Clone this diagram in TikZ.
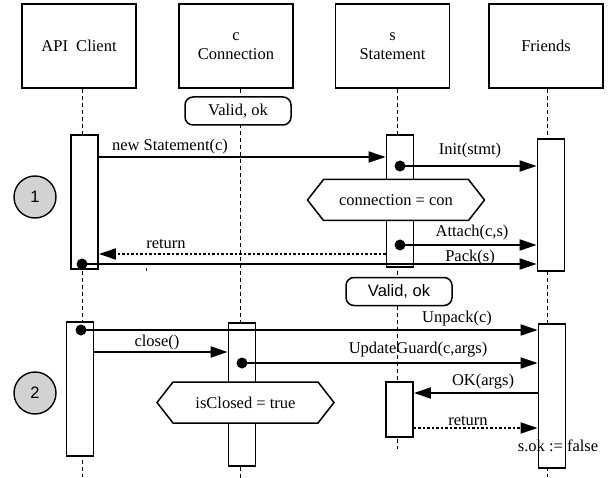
\documentclass[tikz,border=0pt]{standalone}
\usepackage{fontspec}
\setmainfont{Liberation Serif}
\newfontfamily\arialfont{Liberation Sans}
\usetikzlibrary{arrows.meta,shapes.symbols}
\tikzset{
  headbox/.style={draw,line width=1.2pt,minimum width=114pt,minimum height=84pt,align=center},
  lifeline/.style={line width=0.8pt,dash pattern=on 4pt off 3pt},
  actbox/.style={draw,fill=white,line width=1.8pt,minimum width=27pt,inner sep=0pt},
  msg/.style={line width=1.8pt,-{Triangle[length=17pt,width=11pt]}},
  reply/.style={msg,dash pattern=on 2.5pt off 2pt},
  calldot/.style={circle,fill=black,minimum size=11pt,inner sep=0pt},
  guardbox/.style={draw,fill=white,rounded corners=8pt,line width=1.5pt,minimum width=106pt,minimum height=28pt,inner sep=0pt},
  setbox/.style={draw,fill=white,signal,signal to=east and west,signal pointer angle=104,line width=1.5pt,minimum height=41pt,minimum width=177pt,inner sep=0pt},
  phasemark/.style={circle,draw,fill=gray!35,line width=1.4pt,minimum size=42pt,inner sep=0pt,font=\arialfont\fontsize{16.5}{19}\selectfont}
}
\begin{document}
\begin{tikzpicture}[x=1pt,y=-1pt,font=\fontsize{16.5}{19}\selectfont]
\useasboundingbox (0,0) rectangle (615,478);

% objects
\node[headbox] (api) at (79,46) {API\ \ Client};
\node[headbox] (conn) at (236,46) {c\\Connection};
\node[headbox] (stmt) at (392.5,46) {s\\Statement};
\node[headbox] (fr) at (546,46) {Friends};

% lifelines
\draw[lifeline] ([xshift=3pt]api.south) -- ++(0,388);
\draw[lifeline] ([xshift=4pt]conn.south) -- ++(0,390);
\draw[lifeline] ([xshift=5pt]stmt.south) -- ++(0,360);
\draw[lifeline] ([xshift=1pt]fr.south) -- ++(0,388);

% activations
\node[actbox,minimum height=134pt] (apiA) at (84.5,202) {};
\node[actbox,minimum height=132pt] (stmtA) at (400,201) {};
\node[actbox,minimum height=132pt] (frA) at (551,205) {};
\node[actbox,minimum height=134pt] (apiB) at (80,389) {};
\node[actbox,minimum height=143pt] (connB) at (242,394.5) {};
\node[actbox,minimum height=55pt] (stmtB) at (399.5,409.5) {};
\node[actbox,minimum height=144pt] (frB) at (552,396) {};

% states
\node[guardbox] (validA) at (238,111) {Valid, ok};
\node[guardbox,font=\arialfont\fontsize{16.5}{19}\selectfont] (validB) at (399,291.5) {Valid, ok};
\node[setbox] (conset) at (396,200) {connection = con};
\node[setbox] (closedset) at (245.5,402.5) {isClosed = true};

\node[phasemark] (one) at (35,197) {1};
\node[phasemark] (two) at (35,393) {2};

% phase 1
\draw[msg] (apiA.east |- 0,157) -- (stmtA.west |- 0,157);
\node[calldot] (initdot) at (400,166) {};
\draw[msg] (initdot.center) -- (frA.west |- initdot);
\node[calldot] (attachdot) at (400,245) {};
\draw[msg] (attachdot.center) -- (frA.west |- attachdot);
\draw[reply] (stmtA.west |- 0,254) -- (apiA.east |- 0,254);
\node[calldot] (packdot) at (82,264) {};
\draw[msg] (packdot.center) -- (frA.west |- packdot);
\draw[line width=1pt] (146,268) -- (146,271);

\node (newlbl) at (170,147) {new Statement(c)};
\node (initlbl) at (470,151) {Init(stmt)};
\node (attachlbl) at (472,233) {Attach(c,s)};
\node (retlblA) at (166,244) {return};
\node (packlbl) at (470,258) {Pack(s)};

% phase 2
\node[calldot] (unpackdot) at (81,330) {};
\draw[msg] (unpackdot.center) -- (frB.west |- unpackdot);
\draw[msg] (apiB.east |- 0,352) -- (connB.west |- 0,352);
\node[calldot] (guarddot) at (242,363) {};
\draw[msg] (guarddot.center) -- (frB.west |- guarddot);
\draw[msg] (frB.west |- 0,393) -- (stmtB.east |- 0,393);
\draw[reply] (stmtB.east |- 0,428) -- (frB.west |- 0,428);

\node (unpacklbl) at (457,319) {Unpack(c)};
\node (closelbl) at (157,343) {close()};
\node (guardlbl) at (418,350) {UpdateGuard(c,args)};
\node (oklbl) at (483,382) {OK(args)};
\node (retlblB) at (468,421) {return};
\node (oklblB) at (558,446) {s.ok := false};
\end{tikzpicture}
\end{document}
